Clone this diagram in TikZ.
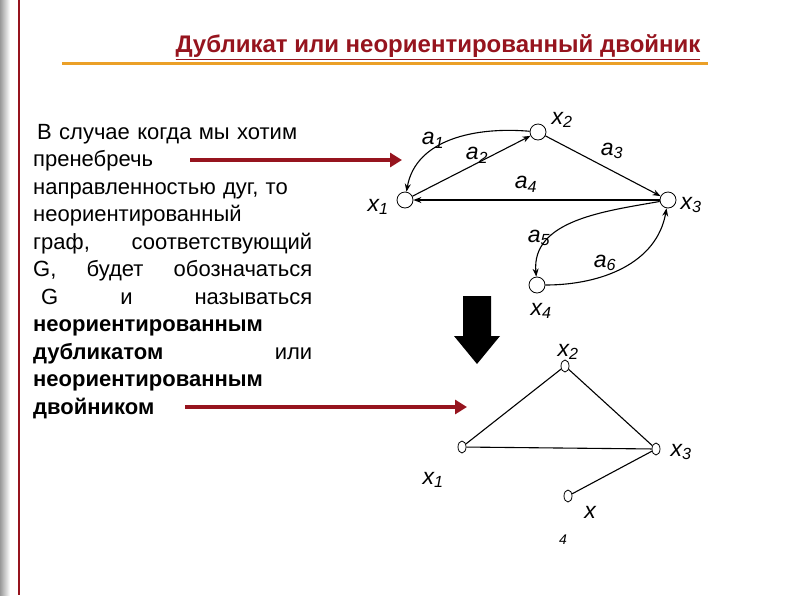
\documentclass[tikz,border=0pt]{standalone}
\usepackage{fontspec}
\setmainfont{Liberation Sans}
\usetikzlibrary{arrows.meta,shapes.geometric}
\definecolor{dred}{RGB}{150,20,30}
\definecolor{org}{RGB}{235,160,40}
\newcommand{\jl}[1]{\makebox[279pt][l]{#1}}
\begin{document}
\begin{tikzpicture}[x=1pt,y=-1pt,
 v/.style={circle,draw,thick,minimum size=16pt,inner sep=0pt,fill=white},
 w/.style={ellipse,draw,thick,minimum width=8pt,minimum height=12pt,inner sep=0pt,fill=white},
 lab/.style={font=\itshape\fontsize{23}{23}\selectfont,inner sep=0pt},
 edge/.style={line width=1.1pt,-{Stealth[length=8pt,width=6pt]}},
 red/.style={line width=4.5pt,dred,-{Triangle[length=12pt,width=14pt]}},
 txt/.style={font=\fontsize{22}{27.5}\selectfont,text width=279pt,align=left,inner sep=0pt,anchor=north west}]
\useasboundingbox (0,0) rectangle (794,595);
\fill[white] (0,0) rectangle (794,595);
\shade[left color=gray!80,right color=white] (0,0) rectangle (10,595);
\draw[dred,line width=1.5pt] (19,0) -- (19,595);
\node[font=\bfseries\fontsize{24}{24}\selectfont,text=dred] (title) at (438,47) {\underline{Дубликат или неориентированный двойник}};
\draw[org,line width=3pt] (62,63) -- (708,63);
\node[txt] (body) at (33,124) {\hspace*{4pt}В случае когда мы хотим\\
пренебречь\\
направленностью дуг, то\\
неориентированный\\
\jl{граф,\hfill соответствующий}\\
\jl{G,\hfill будет\hfill обозначаться}\\
\jl{\hspace*{8pt}G\hfill и\hfill называться}\\
\textbf{неориентированным}\\
\jl{\textbf{дубликатом}\hfill или}\\
\textbf{неориентированным}\\
\textbf{двойником}};
% top graph
\node[v] (x1) at (405,200) {};
\node[v] (x2) at (538,132) {};
\node[v] (x3) at (668,200) {};
\node[v] (x4) at (537,285) {};
\draw[edge] (x2) to[out=175,in=80] (x1);
\draw[edge] (x1) -- (x2);
\draw[edge] (x2) -- (x3);
\draw[edge] (x3) -- (x1);
\draw[edge] (x3) to[out=190,in=95] (x4);
\draw[edge] (x4) to[out=0,in=260] (x3);
\node[lab] at (562,120) {x\textsubscript{2}};
\node[lab] at (433,140) {a\textsubscript{1}};
\node[lab] at (477,155) {a\textsubscript{2}};
\node[lab] at (612,151) {a\textsubscript{3}};
\node[lab] at (526,184) {a\textsubscript{4}};
\node[lab] at (691,205) {x\textsubscript{3}};
\node[lab] at (378,207) {x\textsubscript{1}};
\node[lab] at (539,238) {a\textsubscript{5}};
\node[lab] at (605,263) {a\textsubscript{6}};
\node[lab] at (541,311) {x\textsubscript{4}};
% arrows
\coordinate (r1s) at (190,160); \coordinate (r1e) at (402,160);
\draw[red] (r1s) -- (r1e);
\coordinate (r2s) at (185,407); \coordinate (r2e) at (467,407);
\draw[red] (r2s) -- (r2e);
\fill[black] (463,296) -- (491,296) -- (491,336) -- (500,336) -- (477,364) -- (454,336) -- (463,336) -- cycle;
% bottom graph
\node[w] (y2) at (565,366) {};
\node[w] (y1) at (462,447) {};
\node[w] (y3) at (656,449) {};
\node[w] (y4) at (568,496) {};
\draw[line width=1.1pt] (y1) -- (y2) -- (y3) -- (y1);
\draw[line width=1.1pt] (y3) -- (y4);
\node[lab] at (568,352) {x\textsubscript{2}};
\node[lab] at (681,452) {x\textsubscript{3}};
\node[lab] at (433,480) {x\textsubscript{1}};
\node[lab] at (590,512) {x};
\node[font=\itshape\fontsize{14}{14}\selectfont] at (563,540) {4};
\end{tikzpicture}
\end{document}
